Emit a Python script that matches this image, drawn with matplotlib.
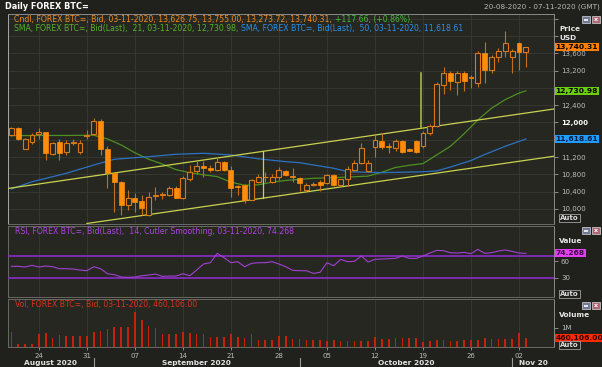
import numpy as np
import pandas as pd
import matplotlib
matplotlib.use("Agg")
import matplotlib.pyplot as plt
import matplotlib.dates as mdates
from matplotlib.transforms import blended_transform_factory
from matplotlib.patches import Rectangle

W, H = 602, 367

# ---- data ------------------------------------------------------------------
dates = pd.date_range("2020-08-20", "2020-11-03", freq="D")

opens = [11710, 11880, 11390, 11540, 11740, 11770, 11265, 11540, 11310, 11530,
         11310, 11690, 11730, 12035, 11390, 10825, 10630, 10090, 10260, 10185,
         9860, 10310, 10335, 10325, 10480, 10260, 10695, 10880, 11000, 10955,
         10900, 11095, 10900, 10540, 10555, 10210, 10630, 10730, 10630, 10750,
         10885, 10770, 10710, 10430, 10560, 10630, 10610, 10785, 10555, 10690,
         10900, 11070, 10885, 11430, 11580, 11450, 11400, 11580, 11380, 11580,
         11455, 11750, 11920, 12865, 13150, 12945, 13150, 13020, 12905, 13615,
         13215, 13505, 13660, 13505, 13845, 13626.75]
highs = [11900, 11900, 11640, 11760, 11870, 11790, 11560, 11620, 11600, 11620,
         11600, 11820, 12100, 12080, 11450, 10830, 10640, 10440, 10370, 10325,
         10400, 10510, 10390, 10520, 10520, 10760, 11020, 11100, 11110, 11020,
         11210, 11120, 11000, 10560, 10570, 10690, 10800, 10860, 10800, 10980,
         10900, 10950, 10730, 10600, 10620, 10680, 10810, 10800, 10700, 10990,
         11135, 11520, 11130, 11700, 11750, 11520, 11620, 11590, 11420, 11600,
         11800, 11960, 12945, 13290, 13200, 13180, 13200, 13100, 13650, 13870,
         13560, 13715, 14120, 13700, 13870, 13755.00]
lows = [11680, 11600, 11380, 11500, 11620, 11130, 11240, 11130, 11250, 11470,
        11260, 11620, 11700, 11250, 10480, 9940, 9860, 9980, 9930, 9860,
        9840, 10210, 10230, 10300, 10250, 10230, 10640, 10800, 10750, 10860,
        10880, 10880, 10285, 10325, 10150, 10200, 10590, 10630, 10590, 10670,
        10760, 10630, 10420, 10400, 10520, 10420, 10580, 10530, 10540, 10540,
        10870, 11040, 10860, 11210, 11380, 11290, 11330, 11290, 11330, 11300,
        11400, 11720, 11900, 12660, 12750, 12640, 12735, 12790, 12830, 12905,
        13135, 13405, 13505, 13135, 13215, 13273.72]
closes = [11880, 11620, 11620, 11710, 11770, 11290, 11520, 11290, 11520, 11555,
          11520, 11720, 12035, 11390, 10825, 10620, 10090, 10260, 10170, 10015,
          10285, 10335, 10350, 10480, 10260, 10725, 10860, 11000, 10955, 10900,
          11095, 10900, 10490, 10510, 10210, 10670, 10750, 10750, 10750, 10900,
          10785, 10730, 10600, 10555, 10580, 10555, 10785, 10555, 10690, 10920,
          11070, 11400, 11070, 11595, 11440, 11430, 11580, 11325, 11350, 11325,
          11765, 11920, 12890, 13150, 12965, 13135, 12965, 13040, 13615, 13215,
          13505, 13660, 13845, 13660, 13625, 13740.31]

volume_k = [790, 155, 155, 155, 690, 730, 480, 620, 550, 550,
            550, 590, 780, 810, 920, 1050, 1040, 1040, 1800, 1420,
            1070, 980, 690, 690, 690, 780, 730, 660, 660, 520,
            520, 520, 690, 520, 480, 690, 350, 350, 350, 550,
            550, 430, 430, 350, 350, 350, 310, 380, 310, 310,
            310, 310, 310, 520, 430, 430, 450, 480, 480, 480,
            260, 310, 380, 380, 310, 310, 350, 380, 350, 480,
            430, 430, 430, 430, 730, 460.106]

rsi = [50.7, 50.7, 49.5, 52.5, 49.5, 51.3, 50.0, 46.4, 46.4, 45.8,
       44.0, 42.8, 50.0, 46.4, 37.3, 35.5, 31.3, 30.7, 31.3, 33.7,
       34.9, 36.7, 32.5, 33.1, 33.1, 37.3, 33.7, 44.0, 54.9, 57.3,
       74.3, 66.4, 57.3, 59.2, 50.0, 56.1, 57.3, 57.3, 59.2, 54.9,
       50.0, 43.4, 42.8, 42.8, 37.9, 39.8, 57.3, 51.9, 63.4, 59.2,
       59.8, 69.5, 58.6, 63.4, 64.0, 64.6, 65.2, 69.5, 65.2, 65.2,
       69.5, 74.9, 79.7, 79.1, 75.5, 74.9, 76.1, 73.7, 81.6, 74.3,
       75.5, 78.5, 80.4, 77.9, 74.9, 74.268]
rsi_levels = [70, 30]

# moving averages, sampled at day offsets from 20-08-2020
sma21_day = [0, 4, 8, 12, 14, 16, 18, 20, 22, 24, 26, 28, 30, 32, 34, 36, 38,
             40, 44, 48, 52, 54, 56, 58, 60, 62, 64, 66, 68, 70, 72, 74, 75]
sma21_val = [11695, 11700, 11700, 11705, 11620, 11480, 11300, 11150, 11040,
             10910, 10840, 10790, 10750, 10620, 10550, 10560, 10620, 10660,
             10710, 10730, 10760, 10850, 10960, 11010, 11050, 11250, 11450,
             11740, 12060, 12330, 12530, 12680, 12730.98]
sma50_day = [0, 3, 8, 12, 15, 20, 24, 28, 32, 36, 40, 42, 47, 49, 54, 60, 62,
             64, 67, 69, 72, 75]
sma50_val = [10462, 10630, 10825, 11017, 11150, 11209, 11265, 11288, 11250,
             11160, 11094, 11070, 10941, 10862, 10840, 10860, 10880, 10970,
             11120, 11260, 11450, 11618.61]

# hand-drawn channel and markers
upper_line = (["2020-08-19", "2020-11-08"], [10463, 12333])
lower_line = (["2020-08-31", "2020-11-08"], [9665, 11240])
marker_a = (["2020-09-25 16:00", "2020-09-25 16:00"], [11340, 10250])
marker_b = (["2020-10-18 17:00", "2020-10-18 17:00"], [13144, 11896])

price_ticks = list(range(10000, 14401, 400))
price_hidden = {11600, 12800, 14000, 14400}   # covered by tags in the reference
vol_ticks = [1_000_000]
vol_tick_labels = ["1M"]
rsi_ticks = [30, 60]

# ---- style ----------------------------------------------------------------
BG = "#20211c"
PANEL = "#262721"
GRID = "#393a33"
SPINE = "#6a6b64"
TICKC = "#bdbdbd"
FILL = "#ff8c0a"
EDGE = "#d87818"
WICK = "#c0701c"
C_SMA21 = "#4e8f22"
C_SMA50 = "#2c72c4"
C_TREND = "#c9d24e"
C_RSI = "#a23fd3"
C_VOL = "#c4220c"
FS = 5.0
FS_LEG = 5.6

plt.rcParams["font.family"] = ["DejaVu Sans"]


def px_rect(left, top, right, bottom):
    return [left / W, 1 - bottom / H, (right - left) / W, (bottom - top) / H]


fig = plt.figure(figsize=(W / 100, H / 100), dpi=100, facecolor=BG)
ax_p = fig.add_axes(px_rect(8, 14, 554, 224), facecolor=PANEL)
ax_r = fig.add_axes(px_rect(8, 226, 554, 297), facecolor=PANEL, sharex=ax_p)
ax_v = fig.add_axes(px_rect(8, 299, 554, 347), facecolor=PANEL, sharex=ax_p)

x = mdates.date2num(dates)
x0 = x[0]

# ---- price panel ------------------------------------------------------------
o, h, l, c = map(np.asarray, (opens, highs, lows, closes))
up = c >= o
body_lo = np.minimum(o, c)
body_h = np.maximum(np.abs(c - o), 14)
ax_p.vlines(x, l, h, color=WICK, lw=0.8, zorder=3)
ax_p.bar(x[up], body_h[up], bottom=body_lo[up], width=0.72,
         facecolor=PANEL, edgecolor=EDGE, lw=0.8, zorder=4)
ax_p.bar(x[~up], body_h[~up], bottom=body_lo[~up], width=0.72,
         facecolor=FILL, edgecolor=FILL, lw=0.5, zorder=4)

ax_p.plot(x[sma21_day], sma21_val, color=C_SMA21, lw=0.9, zorder=2.5)
ax_p.plot(x[sma50_day], sma50_val, color=C_SMA50, lw=0.9, zorder=2.5)
for (dd, vv), col, lw in [(upper_line, C_TREND, 0.9), (lower_line, C_TREND, 0.9),
                          (marker_a, C_TREND, 0.9), (marker_b, "#a4bc3c", 1.2)]:
    ax_p.plot(mdates.date2num(pd.to_datetime(dd)), vv, color=col, lw=lw, zorder=2.6)

ax_p.set_ylim(9653, 14508)
ax_p.set_yticks(price_ticks, ["" if t in price_hidden else f"{t:,}" for t in price_ticks])
ax_p.grid(True, color=GRID, lw=0.6)
ax_p.set_axisbelow(True)

# ---- RSI panel --------------------------------------------------------------
ax_r.plot(x, rsi, color=C_RSI, lw=0.8, zorder=3)
for lv in rsi_levels:
    ax_r.axhline(lv, color="#8c2cc8", lw=1.2, zorder=2.8)
ax_r.set_ylim(-5, 124)
ax_r.set_yticks(rsi_ticks, [str(t) for t in rsi_ticks])
ax_r.grid(True, axis="x", color=GRID, lw=0.6)
ax_r.set_axisbelow(True)

# ---- volume panel -----------------------------------------------------------
ax_v.bar(x, np.asarray(volume_k) * 1000, width=0.24, color=C_VOL, zorder=3)
ax_v.set_ylim(0, 2.49e6)
ax_v.set_yticks(vol_ticks, vol_tick_labels)
ax_v.grid(True, axis="x", color=GRID, lw=0.6)
ax_v.set_axisbelow(True)

mondays = pd.date_range("2020-08-24", "2020-11-02", freq="7D")
ax_v.set_xticks(mdates.date2num(mondays), [d.strftime("%d") for d in mondays])
ax_v.set_xlim(x0 - 0.5, x0 + 79.1)

for ax in (ax_p, ax_r, ax_v):
    ax.yaxis.tick_right()
    ax.tick_params(axis="y", direction="out", length=3, width=0.6, color="#9a9a9a",
                   pad=2, labelsize=FS, labelcolor=TICKC)
    for s in ax.spines.values():
        s.set_color(SPINE)
        s.set_linewidth(0.7)
    ax.spines["right"].set_color("#8a8a8a")
ax_p.spines["left"].set_color("#a8a8a8")
ax_p.spines["top"].set_color("#8a8a8a")
for ax in (ax_p, ax_r):
    ax.tick_params(axis="x", length=0, labelbottom=False)
ax_v.tick_params(axis="x", length=2, width=0.6, color="#9a9a9a", pad=2,
                 labelsize=FS, labelcolor=TICKC)

for t in ax_p.get_yticklabels():
    if t.get_text() == "12,000":
        t.set_color("white")
        t.set_fontweight("bold")

# month captions and separators under the date axis
bt = blended_transform_factory(ax_v.transData, ax_v.transAxes)
xmax = x0 + 79.1
month_starts = [x0 - 0.5] + [mdates.date2num(pd.Timestamp(m)) for m in
                             ["2020-09-01", "2020-10-01", "2020-11-01"]] + [xmax]
month_names = ["August 2020", "September 2020", "October 2020", "Nov 20"]
for i, name in enumerate(month_names):
    mid = (month_starts[i] + month_starts[i + 1]) / 2
    ax_v.text(mid, -0.335, name, transform=bt, ha="center", va="center",
              fontsize=FS + 0.3, fontweight="bold", color="#e2e2e2", clip_on=False)
for ms in month_starts[1:-1]:
    ax_v.plot([ms, ms], [-0.22, -0.44], transform=bt, color="#9a9a9a", lw=0.8,
              clip_on=False)


# ---- value tags on the right axis -----------------------------------------------
def tag(ax, yval, text, fc, color="black"):
    tr = blended_transform_factory(ax.transAxes, ax.transData)
    ax.text(1.003, yval, text, transform=tr, ha="left", va="center",
            fontsize=FS + 0.4, fontweight="bold", color=color, clip_on=False,
            zorder=10, bbox=dict(boxstyle="square,pad=0.12", fc=fc, ec="none"))


tag(ax_p, closes[-1], f"{closes[-1]:,.2f}", "#ff8000")
tag(ax_p, sma21_val[-1], f"{sma21_val[-1]:,.2f}", "#6ccc10")
tag(ax_p, sma50_val[-1], f"{sma50_val[-1]:,.2f}", "#1e9cff", "#0a1a40")
tag(ax_r, rsi[-1], f"{rsi[-1]:.3f}", "#e23ef2", "#3a0a40")
tag(ax_v, volume_k[-1] * 1000, f"{volume_k[-1] * 1000:,.2f}", "#ff2a00", "#300000")


# ---- text outside the axes ----------------------------------------------------
def ftext(xp, yp, s, **kw):
    return fig.text(xp / W, 1 - yp / H, s, va="center", **kw)


renderer = fig.canvas.get_renderer()


def segments(xp, yp, parts):
    for s, col in parts:
        t = ftext(xp, yp, s, color=col, fontsize=FS_LEG)
        xp += t.get_window_extent(renderer).width + 3.0


ftext(5, 6.5, "Daily FOREX BTC=", color="white", fontsize=5.9, fontweight="bold")
ftext(600, 7, "20-08-2020 - 07-11-2020 (GMT)", color="#b8b8b8", fontsize=FS + 0.2, ha="right")

segments(14, 19.5, [("Cndl, FOREX BTC=, Bid, 03-11-2020, 13,626.75, 13,755.00, "
                     "13,273.72, 13,740.31,", "#f08a1e"),
                    ("+117.66, (+0.86%),", "#46b83a")])
segments(14, 28.5, [("SMA, FOREX BTC=, Bid(Last),  21, 03-11-2020, 12,730.98,", "#56b22a"),
                    ("SMA, FOREX BTC=, Bid(Last),  50, 03-11-2020, 11,618.61", "#2f8fe6")])
segments(14.5, 232, [("RSI, FOREX BTC=, Bid(Last),  14, Cutler Smoothing, 03-11-2020, 74.268",
                      "#b044e0")])
segments(14.5, 305, [("Vol, FOREX BTC=, Bid, 03-11-2020, 460,106.00", "#d8321c")])

for yp, s in [(29, "Price"), (38, "USD"), (241, "Value"), (315, "Volume")]:
    ftext(559, yp, s, color="#e8e8e8", fontsize=FS + 0.3, fontweight="bold")

for yp in (218, 294, 345):
    ftext(560, yp, "Auto", color="#dcdcdc", fontsize=FS, fontweight="bold",
          bbox=dict(boxstyle="square,pad=0.15", fc=BG, ec="#a0a0a0", lw=0.6))

# panel window buttons
for yt in (16, 227, 302):
    fig.patches.append(Rectangle((582 / W, 1 - (yt + 7) / H), 8 / W, 7 / H,
                                 transform=fig.transFigure, fc="#6f7a98",
                                 ec="#d8d8d8", lw=0.5))
    fig.patches.append(Rectangle((584 / W, 1 - (yt + 4.5) / H), 4 / W, 2 / H,
                                 transform=fig.transFigure, fc="#e8e8e8", ec="none"))
    fig.patches.append(Rectangle((592 / W, 1 - (yt + 7) / H), 8 / W, 7 / H,
                                 transform=fig.transFigure, fc="#b06878",
                                 ec="#d8d8d8", lw=0.5))
    ftext(596, yt + 3.5, "x", color="white", fontsize=4.5, ha="center", fontweight="bold")

fig.savefig("out.png", dpi=100, facecolor=BG)
